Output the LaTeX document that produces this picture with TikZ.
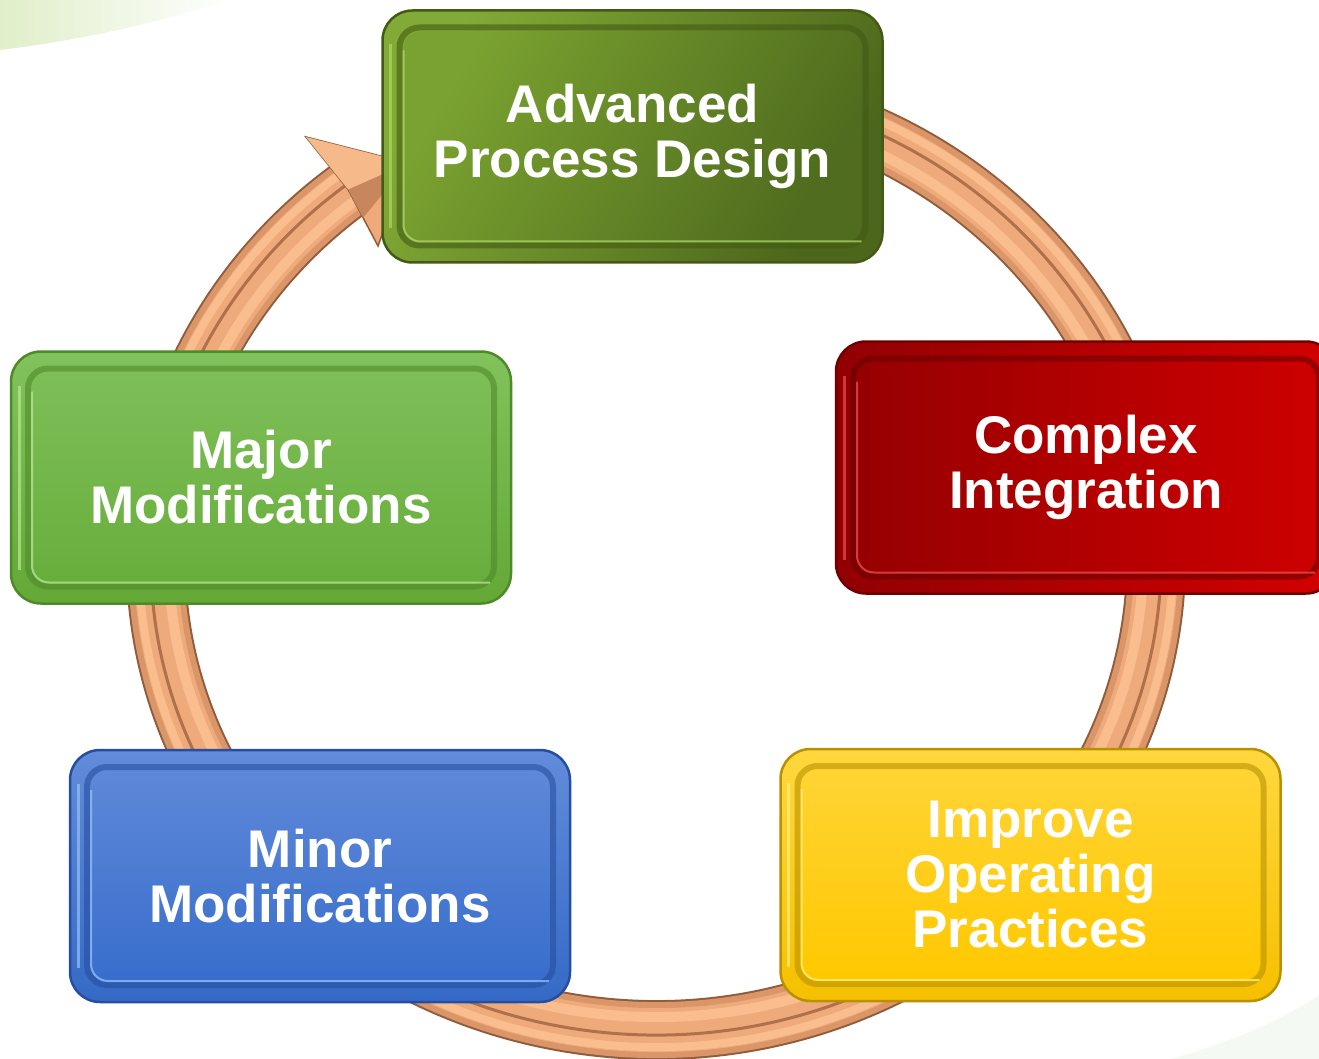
\documentclass[tikz,border=0pt]{standalone}
\usepackage{fontspec}
\setmainfont{Liberation Sans}
\usetikzlibrary{calc,fadings}

% box colour sets: Edge, body Top/Bot, face FTop/FBot, Hi(ghlight)
\definecolor{advEdge}{RGB}{66,90,20}
\definecolor{advTop}{RGB}{130,170,54}
\definecolor{advBot}{RGB}{76,102,27}
\definecolor{advFTop}{RGB}{122,162,48}
\definecolor{advFBot}{RGB}{80,108,30}
\definecolor{advHi}{RGB}{175,215,100}

\definecolor{cplEdge}{RGB}{110,0,0}
\definecolor{cplTop}{RGB}{145,0,4}
\definecolor{cplBot}{RGB}{212,0,0}
\definecolor{cplFTop}{RGB}{150,0,2}
\definecolor{cplFBot}{RGB}{205,0,0}
\definecolor{cplHi}{RGB}{235,80,80}

\definecolor{impEdge}{RGB}{185,145,0}
\definecolor{impTop}{RGB}{255,216,62}
\definecolor{impBot}{RGB}{245,192,0}
\definecolor{impFTop}{RGB}{255,212,52}
\definecolor{impFBot}{RGB}{255,200,0}
\definecolor{impHi}{RGB}{255,242,130}

\definecolor{minEdge}{RGB}{38,78,160}
\definecolor{minTop}{RGB}{98,140,218}
\definecolor{minBot}{RGB}{52,106,198}
\definecolor{minFTop}{RGB}{94,136,216}
\definecolor{minFBot}{RGB}{56,110,204}
\definecolor{minHi}{RGB}{150,192,245}

\definecolor{majEdge}{RGB}{78,138,42}
\definecolor{majTop}{RGB}{130,194,92}
\definecolor{majBot}{RGB}{100,168,54}
\definecolor{majFTop}{RGB}{126,190,88}
\definecolor{majFBot}{RGB}{104,174,60}
\definecolor{majHi}{RGB}{185,232,150}

% ring colours
\definecolor{ringEdge}{RGB}{145,92,60}
\definecolor{ringMid}{RGB}{218,150,104}
\definecolor{ringBody}{RGB}{238,170,122}
\definecolor{ringLight}{RGB}{250,190,142}
\definecolor{ringGroove}{RGB}{176,112,74}
\definecolor{headLight}{RGB}{246,186,138}
\definecolor{headDark}{RGB}{200,134,92}

\definecolor{hazeGreen}{RGB}{208,230,172}
\definecolor{hazeGrey}{RGB}{228,238,222}

\tikzfading[name=hazefade, left color=transparent!35, right color=transparent!100]

\newcommand\boxfont{\bfseries\fontsize{53pt}{55pt}\selectfont}
% the loop: an elliptic arc around (656,560) ending at the arrow head
\newcommand\ringarc[2]{($(656,560)+(-80:#1 and #2)$) arc[start angle=-80, end angle=232, x radius=#1, y radius=#2]}

\tikzset{
  bevel/.style 2 args={
    rectangle, rounded corners=30pt, minimum width=500pt, minimum height=252pt,
    draw=#1Edge, line width=2.5pt,
    top color=#1Top, bottom color=#1Bot, shading angle=#2,
    text=white, font=\boxfont, align=center,
    path picture={
      \draw[#1Hi, line width=3pt, opacity=.7]
        ([shift={(8,34)}]path picture bounding box.north west) --
        ([shift={(8,-34)}]path picture bounding box.south west);
      \draw[#1Edge, line width=6pt, opacity=.6, rounded corners=20pt]
        ([shift={(17,17)}]path picture bounding box.north west) rectangle
        ([shift={(-17,-17)}]path picture bounding box.south east);
      \shade[rounded corners=17pt, top color=#1FTop, bottom color=#1FBot, shading angle=#2]
        ([shift={(21,21)}]path picture bounding box.north west) rectangle
        ([shift={(-21,-21)}]path picture bounding box.south east);
      \draw[#1Hi, line width=2pt, opacity=.75, rounded corners=17pt]
        ([shift={(21,40)}]path picture bounding box.north west) --
        ([shift={(21,-21)}]path picture bounding box.south west) --
        ([shift={(-21,-21)}]path picture bounding box.south east);
    }
  }
}

\begin{document}
\begin{tikzpicture}[x=1pt,y=-1pt]
\path[use as bounding box] (0,0) rectangle (1319,1059);
\clip (0,0) rectangle (1319,1059);
\fill[white] (0,0) rectangle (1319,1059);

% faint haze in the corners
\fill[hazeGreen, path fading=hazefade] (0,0) -- (230,0) .. controls (150,25) and (80,40) .. (0,50) -- cycle;
\fill[hazeGrey, opacity=.35] (1170,1059) .. controls (1240,1040) and (1290,1015) .. (1319,995) -- (1319,1059) -- cycle;

% the loop
\draw[ringEdge, line width=60pt] \ringarc{500}{470};
\draw[ringMid, line width=56pt] \ringarc{500}{470};
\draw[ringBody, line width=44pt] \ringarc{500}{470};
\draw[ringLight, line width=10pt] \ringarc{487}{457};
\draw[ringLight, line width=8pt] \ringarc{517}{487};
\draw[ringGroove, line width=3pt] \ringarc{505}{475};

% arrow head
\coordinate (hb) at (348.2,189.6);
\coordinate (ht) at (408,163);
\coordinate (hu) at (306,137);
\coordinate (hl) at (378,246);
\fill[ringBody, draw=ringEdge, line width=1.5pt, line join=miter] (hu) -- (ht) -- (hl) -- (hb) -- cycle;
\fill[headLight] (hu) -- (ht) -- (hb) -- cycle;
\fill[headDark] (hb) -- (ht) -- ($(hb)!0.5!(hl)$) -- cycle;

% the five stages
\node[bevel={adv}{60}] (adv) at (632.5,136.5) {Advanced\\Process Design};
\node[bevel={cpl}{90}] (cpl) at (1086,467.5) {Complex\\Integration};
\node[bevel={imp}{0}]  (imp) at (1030.5,875) {Improve\\Operating\\Practices};
\node[bevel={min}{0}]  (min) at (320,876) {Minor\\Modifications};
\node[bevel={maj}{0}]  (maj) at (261,477.5) {Major\\Modifications};
\end{tikzpicture}
\end{document}
